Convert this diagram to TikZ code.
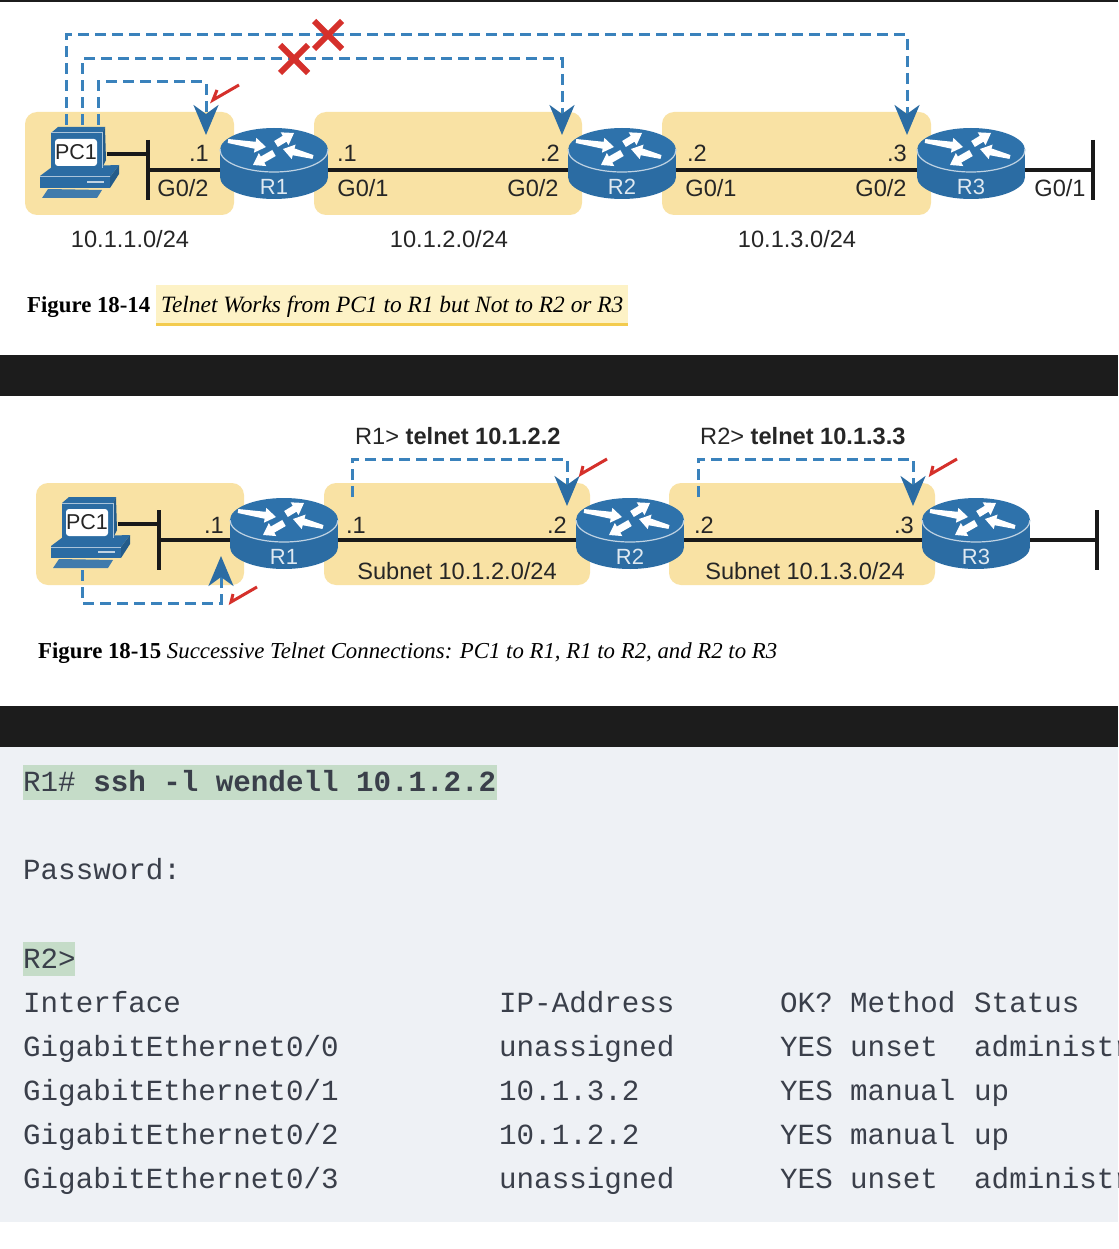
\documentclass[tikz,border=0pt]{standalone}
\usepackage{fontspec}
\setmainfont{Liberation Serif}
\setsansfont{Liberation Sans}
\setmonofont{Liberation Mono}
\usetikzlibrary{arrows.meta,calc}
\definecolor{zone}{HTML}{F9E2A4}
\definecolor{rblue}{HTML}{2B6CA3}
\definecolor{rtop}{HTML}{2E72AB}
\definecolor{dashblue}{HTML}{3A82BC}
\definecolor{xred}{HTML}{D5302B}
\definecolor{band}{HTML}{1C1C1C}
\definecolor{codebg}{HTML}{EEF1F5}
\definecolor{codefg}{HTML}{3A3F4A}
\definecolor{hlgreen}{HTML}{C5DCC8}
\definecolor{hlyellow}{HTML}{FDF2C6}
\definecolor{hlgold}{HTML}{F3CB4E}
\tikzset{
  zonebox/.style={fill=zone,rounded corners=12pt,draw=none},
  wire/.style={line width=3.2pt,black!90},
  lbl/.style={font=\sffamily\fontsize{23.6}{23.6}\selectfont,text=black!85,inner sep=0pt},
  rlabel/.style={font=\sffamily\fontsize{22}{22}\selectfont,text=white!85!rblue,inner sep=0pt},
  routerbox/.style={minimum width=108pt,minimum height=60pt,inner sep=0pt,outer sep=0pt},
  telnet/.style={line width=3pt,dashblue,dash pattern=on 11pt off 6pt},
  telnetarrow/.style={telnet,-{Stealth[length=30pt,width=25pt,inset=9pt,color=rblue]}},
  crossmark/.style={line width=6pt,xred},
  tickmark/.style={line width=3pt,xred},
  codetext/.style={font=\ttfamily\fontsize{29.2}{29.2}\selectfont,text=codefg,anchor=base west,inner sep=0pt},
  captext/.style={font=\fontsize{22.8}{22.8}\selectfont,text=black,anchor=base west,inner sep=0pt},
}
\newcommand{\rarrow}[5]{%
  \pgfmathsetmacro{\rang}{atan2(-(#4-(#2)),#3-(#1))}%
  \pgfmathsetmacro{\rlen}{veclen(#3-(#1),#4-(#2))}%
  \pgfmathsetmacro{\rneck}{\rlen-11}%
  \fill[white,shift={(#1,#2)},rotate=\rang] (0,-#5) -- (\rneck,-3.5) -- (\rneck,-7.5) -- (\rlen,0) -- (\rneck,7.5) -- (\rneck,3.5) -- (0,#5) -- cycle;}
\newcommand{\routerico}[4]{% name, x, y, label
  \begin{scope}[shift={(#2,#3)}]
    \fill[rblue] (0,27) ellipse [x radius=54,y radius=22];
    \fill[rblue] (-54,0) rectangle (54,27);
    \fill[rtop] (0,0) ellipse [x radius=54,y radius=22];
    \begin{scope}
      \clip (-60,0) rectangle (60,30);
      \draw[white!70!rblue,line width=1.2pt] (0,0) ellipse [x radius=54,y radius=22];
    \end{scope}
    \rarrow{-46}{-9}{-8}{-3}{2}
    \rarrow{2}{-6}{20}{-17}{3.5}
    \rarrow{39}{7}{9}{-1}{2}
    \rarrow{0}{3}{-21}{15}{3.5}
    \node[routerbox] (#1) at (0,20) {};
    \node[rlabel] (#1l) at (0,37) {#4};
  \end{scope}}
\newcommand{\pcico}[3]{% name, dx, dy
  \begin{scope}[shift={(#2,#3)}]
    \fill[rblue] (51,133) -- (58,127) -- (105,127) -- (102,133) -- cycle;
    \fill[rblue!85!black] (102,133) -- (105,127) -- (106,160) -- (102,168) -- cycle;
    \fill[rblue] (51,133) rectangle (102,168);
    \fill[rblue] (40,176) -- (52,167) -- (119,165) -- (110,177) -- cycle;
    \fill[rblue] (40,176) rectangle (110,188);
    \fill[rblue!85!black] (110,177) -- (119,165) -- (119,174) -- (110,188) -- cycle;
    \draw[white!60!rblue,line width=1pt] (40,177) -- (110,177);
    \draw[white!70!rblue,line width=1.5pt] (87,182) -- (104,182);
    \draw[white!60!rblue,line width=1pt] (51,133) -- (102,133) -- (102,168);
    \fill[rblue!90!white] (42,198) -- (48,189) -- (102,190) -- (97,198) -- cycle;
    \node[fill=white,rounded corners=3pt,minimum width=42pt,minimum height=27pt,inner sep=0pt,outer sep=0pt,font=\sffamily\fontsize{21.5}{21.5}\selectfont,text=black!85] (#1) at (76,152.5) {PC1};
    \coordinate (#1a) at (66,125);
    \coordinate (#1b) at (82,125);
    \coordinate (#1c) at (98,125);
    \coordinate (#1d) at (71,200);
    \coordinate (#1e) at (107,154);
  \end{scope}}
\begin{document}
\begin{tikzpicture}[x=1pt,y=-1pt]
\useasboundingbox (0,0) rectangle (1118,1249);
\clip (0,0) rectangle (1118,1249);
\fill[white] (0,0) rectangle (1118,1249);
% bands
\fill[band] (0,0) rectangle (1118,2);
\fill[band] (0,355) rectangle (1118,396);
\fill[band] (0,706) rectangle (1118,747);
\fill[codebg] (0,747) rectangle (1118,1222);

% ---------- Figure 18-14
\fill[zonebox] (25,112) rectangle (234,215);
\fill[zonebox] (314,112) rectangle (582,215);
\fill[zonebox] (662,112) rectangle (931,215);
\pcico{pa}{0}{0}
\routerico{ra1}{274}{150}{R1}
\routerico{ra2}{622}{150}{R2}
\routerico{ra3}{971}{150}{R3}
\coordinate (ba1t) at (148,140); \coordinate (ba1b) at (148,200); \coordinate (ba1m) at (148,170); \coordinate (ba1p) at (148,154);
\coordinate (ba3t) at (1093,140); \coordinate (ba3b) at (1093,200); \coordinate (ba3m) at (1093,170);
\draw[wire] (pae) -- (ba1p);
\draw[wire] (ba1t) -- (ba1b);
\draw[wire] (ba1m) -- (ra1.west);
\draw[wire] (ra1.east) -- (ra2.west);
\draw[wire] (ra2.east) -- (ra3.west);
\draw[wire] (ra3.east) -- (ba3m);
\draw[wire] (ba3t) -- (ba3b);
\coordinate (ta1) at (206,135); \coordinate (ta2) at (562,135); \coordinate (ta3) at (907,135);
\draw[telnetarrow] (pac) |- (152,82) -| (ta1);
\draw[telnetarrow] (pab) |- (300,59) -| (ta2);
\draw[telnetarrow] (paa) |- (500,35) -| (ta3);
\coordinate (xa) at (294,59); \coordinate (xb) at (328,35);
\draw[crossmark] ($(xa)+(-14,-14)$) -- ($(xa)+(14,14)$);
\draw[crossmark] ($(xa)+(-14,14)$) -- ($(xa)+(14,-14)$);
\draw[crossmark] ($(xb)+(-14,-14)$) -- ($(xb)+(14,14)$);
\draw[crossmark] ($(xb)+(-14,14)$) -- ($(xb)+(14,-14)$);
\draw[tickmark] (217,90) -- (213,100) -- (239,85);
\node[lbl] (l01) at (199,153) {.1};
\node[lbl] (l02) at (183,188) {G0/2};
\node[lbl] (l03) at (347,153) {.1};
\node[lbl] (l04) at (363,188) {G0/1};
\node[lbl] (l05) at (550,153) {.2};
\node[lbl] (l06) at (533,188) {G0/2};
\node[lbl] (l07) at (697,153) {.2};
\node[lbl] (l08) at (711,188) {G0/1};
\node[lbl] (l09) at (897,153) {.3};
\node[lbl] (l10) at (881,188) {G0/2};
\node[lbl] (l11) at (1060,188) {G0/1};
\node[lbl] (l12) at (130,239) {10.1.1.0/24};
\node[lbl] (l13) at (449,239) {10.1.2.0/24};
\node[lbl] (l14) at (797,239) {10.1.3.0/24};
\fill[hlyellow] (156,285) rectangle (628,324);
\fill[hlgold] (156,323) rectangle (628,326);
\node[captext] (cap1) at (27,312) {\textbf{Figure 18-14}};
\node[captext,font=\fontsize{23.4}{23.4}\selectfont] (cap1b) at (161,312) {\textit{Telnet Works from PC1 to R1 but Not to R2 or R3}};

% ---------- Figure 18-15
\fill[zonebox] (36,483) rectangle (244,585);
\fill[zonebox] (324,483) rectangle (590,585);
\fill[zonebox] (669,483) rectangle (935,585);
\pcico{pb}{11}{370}
\routerico{rb1}{284}{520}{R1}
\routerico{rb2}{630}{520}{R2}
\routerico{rb3}{976}{520}{R3}
\coordinate (bb1t) at (159,510); \coordinate (bb1b) at (159,570); \coordinate (bb1m) at (159,540); \coordinate (bb1p) at (159,524);
\coordinate (bb3t) at (1097,510); \coordinate (bb3b) at (1097,570); \coordinate (bb3m) at (1097,540);
\draw[wire] (pbe) -- (bb1p);
\draw[wire] (bb1t) -- (bb1b);
\draw[wire] (bb1m) -- (rb1.west);
\draw[wire] (rb1.east) -- (rb2.west);
\draw[wire] (rb2.east) -- (rb3.west);
\draw[wire] (rb3.east) -- (bb3m);
\draw[wire] (bb3t) -- (bb3b);
\coordinate (tb0) at (221,556); \coordinate (tb1s) at (352,497); \coordinate (tb1) at (567,506);
\coordinate (tb2s) at (698,497); \coordinate (tb2) at (913,506);
\draw[telnetarrow] (pbd) |- (150,603) -| (tb0);
\draw[telnetarrow] (tb1s) |- (460,459) -| (tb1);
\draw[telnetarrow] (tb2s) |- (805,459) -| (tb2);
\draw[tickmark] (233,594) -- (231,602) -- (257,587);
\draw[tickmark] (583,466) -- (581,474) -- (607,459);
\draw[tickmark] (933,466) -- (931,474) -- (957,459);
\node[lbl,anchor=base west] (m01) at (355,444) {R1> \textbf{telnet 10.1.2.2}};
\node[lbl,anchor=base west] (m02) at (700,444) {R2> \textbf{telnet 10.1.3.3}};
\node[lbl] (m03) at (214,525) {.1};
\node[lbl] (m04) at (356,525) {.1};
\node[lbl] (m05) at (557,525) {.2};
\node[lbl] (m06) at (704,525) {.2};
\node[lbl] (m07) at (904,525) {.3};
\node[lbl] (m08) at (457,571) {Subnet 10.1.2.0/24};
\node[lbl] (m09) at (805,571) {Subnet 10.1.3.0/24};
\node[captext] (cap2) at (38,658) {\textbf{Figure 18-15} \textit{Successive Telnet Connections: PC1 to R1, R1 to R2, and R2 to R3}};

% ---------- Code
\fill[hlgreen] (23,765) rectangle (497,800);
\fill[hlgreen] (23,942) rectangle (75,976);
\node[codetext] (c1) at (23,791) {R1\# \textbf{ssh -l wendell 10.1.2.2}};
\node[codetext] (c2) at (23,879) {Password:};
\node[codetext] (c3) at (23,968) {R2>};
\node[codetext] (h1) at (23,1012) {Interface};
\node[codetext] (h2) at (499,1012) {IP-Address};
\node[codetext] (h3) at (780,1012) {OK?};
\node[codetext] (h4) at (850,1012) {Method};
\node[codetext] (h5) at (974,1012) {Status};
\node[codetext] (a1) at (23,1056) {GigabitEthernet0/0};
\node[codetext] (a2) at (499,1056) {unassigned};
\node[codetext] (a3) at (780,1056) {YES};
\node[codetext] (a4) at (850,1056) {unset};
\node[codetext] (a5) at (974,1056) {administratively down};
\node[codetext] (b1) at (23,1100) {GigabitEthernet0/1};
\node[codetext] (b2) at (499,1100) {10.1.3.2};
\node[codetext] (b3) at (780,1100) {YES};
\node[codetext] (b4) at (850,1100) {manual};
\node[codetext] (b5) at (974,1100) {up};
\node[codetext] (d1) at (23,1144) {GigabitEthernet0/2};
\node[codetext] (d2) at (499,1144) {10.1.2.2};
\node[codetext] (d3) at (780,1144) {YES};
\node[codetext] (d4) at (850,1144) {manual};
\node[codetext] (d5) at (974,1144) {up};
\node[codetext] (e1) at (23,1188) {GigabitEthernet0/3};
\node[codetext] (e2) at (499,1188) {unassigned};
\node[codetext] (e3) at (780,1188) {YES};
\node[codetext] (e4) at (850,1188) {unset};
\node[codetext] (e5) at (974,1188) {administratively down};
\end{tikzpicture}
\end{document}
